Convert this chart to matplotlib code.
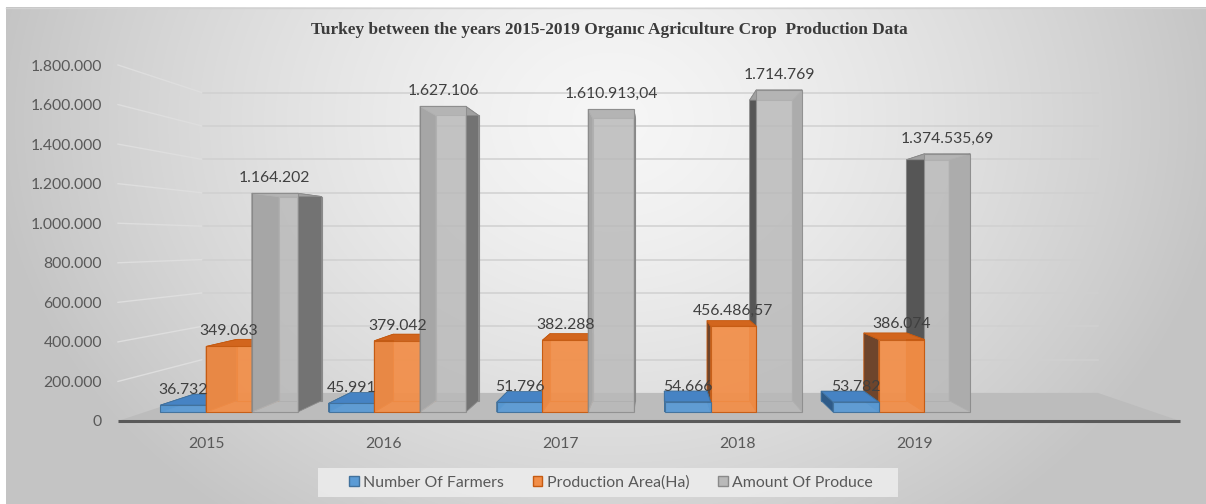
import numpy as np
import matplotlib
matplotlib.use("Agg")
import matplotlib.pyplot as plt
from matplotlib.patches import Polygon, Patch, Rectangle

# ---------------- data ----------------
years = ["2015", "2016", "2017", "2018", "2019"]
series_names = ["Number Of Farmers", "Production Area(Ha)", "Amount Of Produce"]
farmers = [36732, 45991, 51796, 54666, 53782]
area = [349063, 379042, 382288, 456486.57, 386074]
produce = [1164202, 1627106, 1610913.04, 1714769, 1374535.69]
y_ticks = [0, 200000, 400000, 600000, 800000, 1000000, 1200000, 1400000, 1600000, 1800000]
title = "Turkey between the years 2015-2019 Organıc Agriculture Crop  Production Data"


def tr_fmt(v):
    s = f"{v:,.2f}"
    ip, dp = s.split(".")
    ip = ip.replace(",", ".")
    return ip if dp == "00" else ip + "," + dp


plt.rcParams['font.family'] = ['Lato', 'DejaVu Sans']

W, H = 1206, 504
fig = plt.figure(figsize=(W / 100, H / 100), dpi=100)

# ---------------- background ----------------
bg = fig.add_axes([0, 0, 1, 1])
bg.set_xlim(0, W)
bg.set_ylim(H, 0)
bg.axis('off')
yy, xx = np.mgrid[7:H, 6:W]
r = np.sqrt(((xx - 610) / 640.0) ** 2 + ((yy - 120) / 520.0) ** 2)
val = np.clip(246 - 52 * r ** 1.4, 196, 246) / 255.0
img = np.dstack([val, val, val])
bg.imshow(img, extent=(6, W, H, 7), aspect='auto', interpolation='bilinear')
bg.plot([6, W], [7.5, 7.5], color='#d2d2d2', lw=1)
# legend panel
bg.add_patch(Rectangle((318, 468), 580, 29, facecolor='#ededed', edgecolor='none', alpha=0.85))

# ---------------- main axes (front plane of floor) ----------------
ax = fig.add_axes([118 / W, (H - 421) / H, 1062 / W, 356 / H])
ax.set_xlim(-0.5, 5.5)
ax.set_ylim(0, 1.8e6)
ax.patch.set_visible(False)
for s in ax.spines.values():
    s.set_visible(False)

XVP = (657 - 118) / 177.0 - 0.5
VVP = 179.0 / 356.0 * 1.8e6
KW = 0.843   # back wall depth factor
KF = 0.95    # bar front depth factor
KB = 0.886   # bar back depth factor


def P(x, v, k):
    return (XVP + (x - XVP) * k, VVP + (v - VVP) * k)


# gridlines: left wall + back wall
for v in y_ticks[1:]:
    a = P(-0.5, v, 1.0)
    b = P(-0.5, v, KW)
    c = P(5.5, v, KW)
    ax.plot([a[0], b[0]], [a[1], b[1]], color='#dedede', lw=1.0, clip_on=False, zorder=1)
    ax.plot([b[0], c[0]], [b[1], c[1]], color='#d0d0d0', lw=1.1, clip_on=False, zorder=1)

# floor
fl = [P(-0.5, 0, 1.0), P(5.5, 0, 1.0), P(5.5, 0, KW), P(-0.5, 0, KW)]
ax.add_patch(Polygon(fl, closed=True, facecolor='#bcbcbc', edgecolor='none',
                     clip_on=False, zorder=2))
ax.plot([-0.5, 5.5], [0, 0], color='#5a5a5a', lw=2.2, clip_on=False, zorder=3,
        solid_capstyle='butt')

# ---------------- bars ----------------
series = [farmers, area, produce]
styles = [
    dict(front='#5b9bd5', top='#4683c4', rside='#3a6fa3', lside='#2f5b88', edge='#41719c', alpha=0.95),
    dict(front='#f28e48', top='#d2651d', rside='#b85a1c', lside='#6e452c', edge='#c55a11', alpha=0.93),
    dict(front='#b9b9b9', top='#a0a0a0', rside='#737373', lside='#565656', edge='#8a8a8a', alpha=0.82),
]
w = 0.272
offsets = [-w, 0.0, w]

z = 10
labels = []
for i in range(len(years)):
    order = sorted(range(3), key=lambda j: -abs(i + offsets[j] - XVP))
    for j in order:
        st = styles[j]
        v = series[j][i]
        xc = i + offsets[j]
        x0, x1 = xc - w / 2, xc + w / 2
        bl0, bl1 = P(x0, 0, KB), P(x0, v, KB)
        br0, br1 = P(x1, 0, KB), P(x1, v, KB)
        ax.add_patch(Polygon([bl0, br0, br1, bl1], closed=True, facecolor='none',
                             edgecolor=st['edge'], lw=0.8, clip_on=False, zorder=z))
        z += 1
        ls = [P(x0, 0, KF), P(x0, 0, KB), P(x0, v, KB), P(x0, v, KF)]
        ax.add_patch(Polygon(ls, closed=True, facecolor=st['lside'], edgecolor=st['edge'],
                             lw=0.6, clip_on=False, zorder=z))
        z += 1
        rs = [P(x1, 0, KF), P(x1, 0, KB), P(x1, v, KB), P(x1, v, KF)]
        ax.add_patch(Polygon(rs, closed=True, facecolor=st['rside'], edgecolor=st['edge'],
                             lw=0.6, clip_on=False, zorder=z))
        z += 1
        tp = [P(x0, v, KF), P(x1, v, KF), P(x1, v, KB), P(x0, v, KB)]
        ax.add_patch(Polygon(tp, closed=True, facecolor=st['top'], edgecolor=st['edge'],
                             lw=0.6, clip_on=False, zorder=z))
        z += 1
        fx0, fy0 = P(x0, 0, KF)
        ax.bar(fx0, v * KF, width=w * KF, bottom=fy0, align='edge', color=st['front'],
               alpha=st['alpha'], edgecolor=st['edge'], linewidth=0.8, clip_on=False, zorder=z)
        z += 1
        labels.append((P(xc, v, KF), tr_fmt(v)))

for (pt, txt) in labels:
    ax.annotate(txt, xy=pt, xytext=(0, 8), textcoords='offset points', ha='center',
                va='baseline', fontsize=11.3, color='#404040', zorder=500,
                annotation_clip=False)

# ---------------- ticks ----------------
ax.set_yticks(y_ticks, [tr_fmt(t) for t in y_ticks])
ax.set_xticks(range(len(years)), years)
ax.tick_params(axis='y', length=0, pad=11.5, labelsize=11.3, labelcolor='#595959')
ax.tick_params(axis='x', length=0, pad=11.5, labelsize=11.3, labelcolor='#595959')

# ---------------- legend ----------------
handles = [Patch(facecolor=styles[j]['front'], edgecolor=styles[j]['edge'], label=series_names[j])
           for j in range(3)]
leg = fig.legend(handles=handles, loc='center', bbox_to_anchor=(611 / W, (H - 482.5) / H),
                 ncol=3, frameon=False, fontsize=11.4, handlelength=0.6, handleheight=0.6,
                 handletextpad=0.3, columnspacing=1.8, borderpad=0.3, borderaxespad=0)
for t in leg.get_texts():
    t.set_color('#595959')

# ---------------- title ----------------
fig.text(609 / W, (H - 30) / H, title, ha='center', va='center',
         family=['Liberation Serif', 'DejaVu Serif'], weight='bold', size=12.4, color='#3b3b3b')

fig.savefig("out.png", dpi=100)
